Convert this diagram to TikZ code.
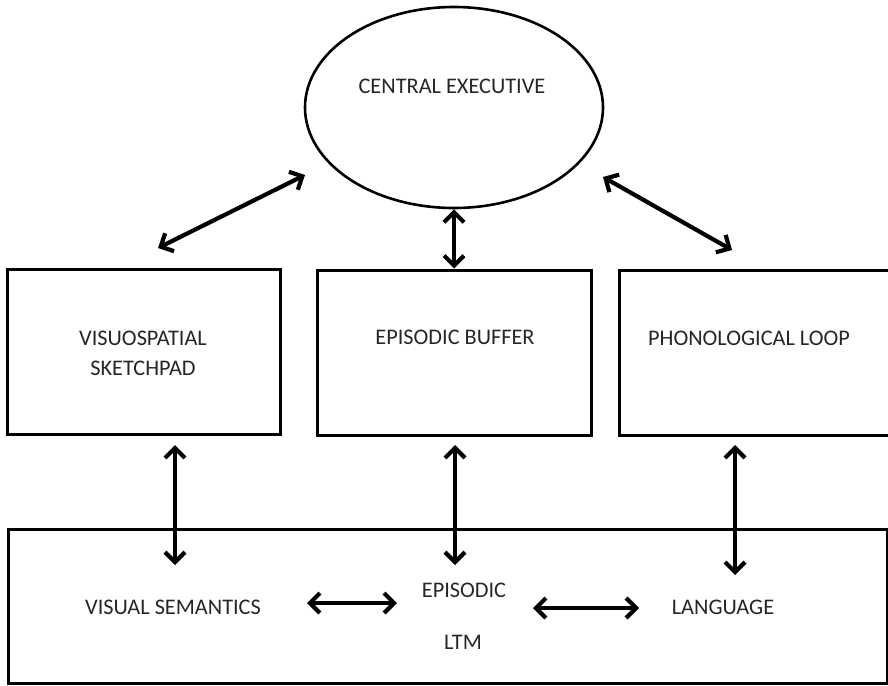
\documentclass[tikz,border=0pt]{standalone}
\usepackage{fontspec}
\setmainfont{Carlito}
\usetikzlibrary{arrows.meta,shapes.geometric}
\begin{document}
\begin{tikzpicture}[x=1pt,y=-1pt,
  box/.style={draw, line width=3pt, inner sep=0pt},
  lbl/.style={text=black!85, font=\fontsize{22.3}{26}\selectfont, inner sep=0pt, align=center},
  dbl/.style={{Straight Barb[length=10pt,width=20pt]}-{Straight Barb[length=10pt,width=20pt]}, line width=4.2pt, line join=miter}]
\useasboundingbox (0,0) rectangle (888,685);
% central executive
\node[ellipse, draw, line width=2.6pt, minimum width=298pt, minimum height=201pt] (ce) at (454,107.5) {};
\node[lbl] (cet) at (452,86) {CENTRAL EXECUTIVE};
% boxes
\node[box, minimum width=273pt, minimum height=165pt] (vs) at (143.5,352) {};
\node[box, minimum width=274pt, minimum height=165pt] (eb) at (454,352.5) {};
\node[box, minimum width=270pt, minimum height=165pt] (pl) at (754,352.5) {};
\node[draw, line width=3pt, inner sep=0pt, minimum width=879pt, minimum height=154pt] (ltm) at (447.5,606) {};
% labels
\node[lbl] (vst1) at (143,338) {VISUOSPATIAL};
\node[lbl] (vst2) at (143,368) {SKETCHPAD};
\node[lbl] (ebt) at (455,337) {EPISODIC BUFFER};
\node[lbl] (plt) at (749,338) {PHONOLOGICAL LOOP};
\node[lbl] (vsem) at (173,607) {VISUAL SEMANTICS};
\node[lbl] (ep) at (464,590) {EPISODIC};
\node[lbl] (ltmt) at (463,642) {LTM};
\node[lbl] (lang) at (723,607) {LANGUAGE};
% free arrow ends
\coordinate (a1) at (158,248);
\coordinate (a2) at (305,175);
\coordinate (b1) at (603,177);
\coordinate (b2) at (732,250);
\coordinate (c1) at (175,445);
\coordinate (c2) at (175,565);
\coordinate (d1) at (455,445);
\coordinate (d2) at (455,565);
\coordinate (e1) at (735,445);
\coordinate (e2) at (735,575);
\coordinate (f1) at (307,603);
\coordinate (f2) at (397,603);
\coordinate (g1) at (533,608);
\coordinate (g2) at (639,608);
% arrows
\draw[dbl] (a1) -- (a2);
\draw[dbl] (b1) -- (b2);
\draw[dbl] (ce.south) -- (eb.north);
\draw[dbl] (c1) -- (c2);
\draw[dbl] (d1) -- (d2);
\draw[dbl] (e1) -- (e2);
\draw[dbl] (f1) -- (f2);
\draw[dbl] (g1) -- (g2);
\end{tikzpicture}
\end{document}
